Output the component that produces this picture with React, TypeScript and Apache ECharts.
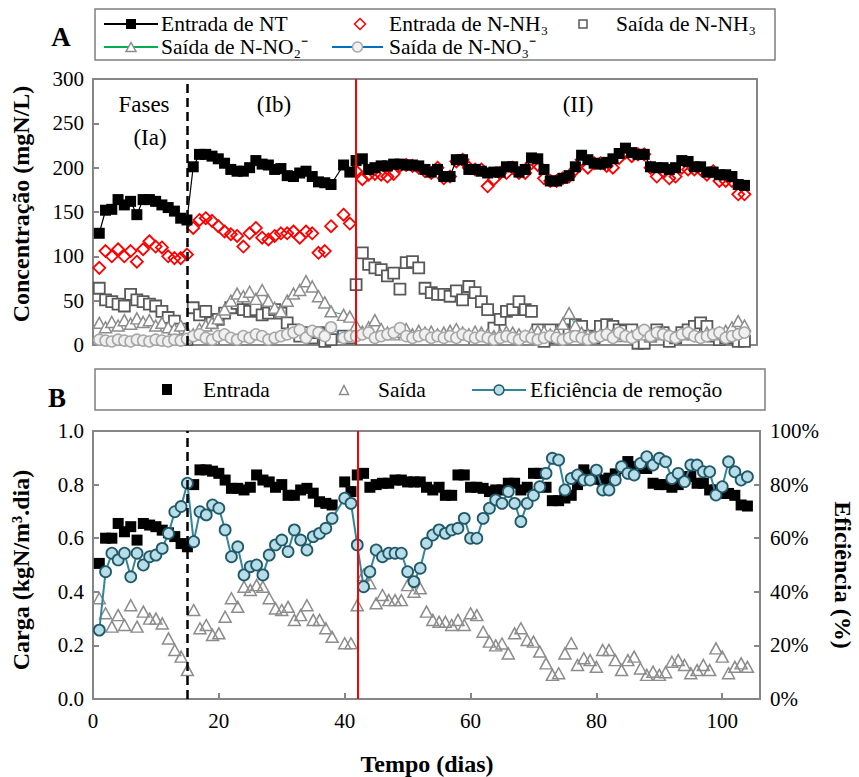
import React, { useEffect, useRef } from "react";
import * as echarts from "echarts";

// Days of operation (day 39 missing)
const DAYS = [
  1, 2, 3, 4, 5, 6, 7, 8, 9, 10, 11, 12, 13, 14, 15,
  16, 17, 18, 19, 20, 21, 22, 23, 24, 25, 26, 27, 28, 29, 30, 31, 32, 33, 34, 35, 36, 37, 38, 40, 41,
  42, 43, 44, 45, 46, 47, 48, 49, 50, 51, 52, 53, 54, 55, 56, 57, 58, 59, 60, 61,
  62, 63, 64, 65, 66, 67, 68, 69, 70, 71, 72, 73, 74, 75, 76, 77, 78, 79, 80, 81,
  82, 83, 84, 85, 86, 87, 88, 89, 90, 91, 92, 93, 94, 95, 96, 97, 98, 99, 100, 101,
  102, 103, 104,
];

// Panel A (mgN/L)
const ENTRADA_NT = [
  126, 152, 153, 164, 158, 162, 147, 164, 164, 162, 158, 155, 151, 143, 141,
  201, 215, 215, 213, 210, 205, 198, 196, 196, 200, 208, 204, 203, 198, 199, 191, 190, 194, 196, 190, 184, 183, 181, 203, 195,
  208, 210, 198, 200, 202, 202, 204, 204, 203, 203,
  202, 198, 195, 198, 190, 190, 209, 209, 198, 198,
  196, 194, 195, 195, 201, 201, 195, 198, 211, 210,
  198, 185, 185, 188, 191, 201, 214, 209, 205, 204,
  206, 210, 216, 222, 217, 215, 215, 201, 200, 200,
  198, 200, 208, 207, 201, 201, 195, 195, 192, 192,
  190, 181, 180,
];
const ENTRADA_NH3 = [
  87, 106, 100, 108, 100, 106, 94, 108, 117, 111, 110, 100, 98, 98, 102,
  132, 141, 143, 140, 134, 128, 125, 123, 111, 126, 132, 121, 119, 123, 126, 126, 128, 121, 128, 126, 104, 106, 134, 147, 137,
  196, 187, 192, 193, 192, 190, 193, 202, 203, 202,
  200, 196, 194, 200, 188, 190, 207, 209, 200, 198,
  198, 179, 187, 194, 194, 200, 194, 194, 205, 203,
  188, 185, 185, 188, 190, 198, 209, 200, 205, 205,
  202, 200, 211, 217, 213, 215, 215, 200, 190, 196,
  188, 190, 200, 198, 198, 198, 192, 196, 185, 185,
  185, 170, 170,
];
const SAIDA_NH3 = [
  64, 51, 49, 46, 44, 57, 51, 49, 46, 44, 38, 31, 27, 18, 6,
  42, 34, 38, 25, 29, 36, 42, 47, 40, 38, 40, 34, 36, 40, 36, 25, 17, 10, 14, 8, 14, 4, 6, 10, 8,
  68, 104, 91, 87, 85, 78, 81, 63, 93, 94,
  87, 64, 59, 57, 57, 55, 61, 51, 66, 59,
  49, 40, 19, 29, 38, 40, 49, 40, 38, 17,
  4, 17, 8, 17, 14, 23, 21, 10, 8, 21,
  23, 21, 17, 16, 17, 2, 2, 10, 17, 14,
  4, 8, 14, 17, 21, 25, 21, 10, 6, 8,
  12, 4, 4,
];
const SAIDA_NO2 = [
  25, 20, 26, 22, 28, 24, 30, 26, 28, 22, 25, 20, 18, 22, 15,
  12, 18, 22, 25, 30, 40, 50, 58, 55, 60, 52, 62, 50, 42, 38, 50, 58, 62, 72, 66, 55, 48, 38, 34, 32,
  22, 15, 20, 28, 18, 14, 12, 15, 18, 12,
  16, 14, 15, 12, 14, 16, 18, 14, 12, 15,
  14, 12, 10, 12, 15, 14, 12, 10, 14, 16,
  15, 12, 14, 24, 36, 22, 14, 12, 10, 12,
  14, 12, 10, 12, 10, 14, 12, 10, 12, 14,
  12, 10, 12, 14, 12, 10, 14, 12, 14, 16,
  20, 27, 22,
];
const SAIDA_NO3 = [
  6, 5, 4, 6, 5, 4, 6, 5, 4, 6, 5, 4, 6, 5, 7,
  10, 12, 8, 6, 10, 12, 8, 6, 10, 8, 12, 10, 6, 8, 10, 12, 14, 17, 8, 16, 14, 10, 20, 8, 10,
  10, 12, 14, 8, 10, 12, 14, 19, 10, 8,
  10, 12, 8, 10, 8, 10, 8, 12, 10, 8,
  10, 8, 6, 8, 10, 8, 6, 10, 8, 6,
  8, 10, 8, 6, 8, 10, 8, 6, 8, 10,
  12, 8, 14, 10, 8, 12, 17, 10, 14, 12,
  10, 8, 12, 14, 10, 8, 10, 12, 14, 8,
  10, 12, 14,
];

// Panel B (kgN/m3.dia and %)
const CARGA_ENTRADA = [
  0.506, 0.6, 0.6, 0.655, 0.624, 0.643, 0.593, 0.655, 0.649, 0.643, 0.63, 0.62, 0.606, 0.58, 0.568,
  0.8, 0.855, 0.855, 0.85, 0.842, 0.817, 0.786, 0.786, 0.78, 0.79, 0.836, 0.817, 0.81, 0.79, 0.8, 0.76, 0.76, 0.78, 0.786, 0.768, 0.736, 0.73, 0.724, 0.81, 0.774,
  0.836, 0.842, 0.79, 0.8, 0.805, 0.805, 0.817, 0.817, 0.81, 0.81,
  0.81, 0.79, 0.78, 0.79, 0.76, 0.76, 0.836, 0.836, 0.79, 0.79,
  0.786, 0.774, 0.78, 0.78, 0.805, 0.805, 0.78, 0.79, 0.842, 0.842,
  0.79, 0.74, 0.74, 0.75, 0.76, 0.8, 0.855, 0.836, 0.82, 0.817,
  0.824, 0.84, 0.86, 0.886, 0.867, 0.86, 0.86, 0.805, 0.8, 0.8,
  0.79, 0.8, 0.83, 0.83, 0.805, 0.805, 0.78, 0.78, 0.767, 0.767,
  0.76, 0.724, 0.72,
];
const CARGA_SAIDA = [
  0.376, 0.32, 0.27, 0.313, 0.276, 0.35, 0.27, 0.326, 0.3, 0.3, 0.282, 0.226, 0.183, 0.158, 0.108,
  0.332, 0.264, 0.276, 0.239, 0.245, 0.307, 0.376, 0.344, 0.419, 0.407, 0.425, 0.419, 0.376, 0.338, 0.332, 0.344, 0.295, 0.313, 0.35, 0.295, 0.295, 0.264, 0.232, 0.208, 0.208,
  0.35, 0.463, 0.432, 0.357, 0.388, 0.369, 0.369, 0.369, 0.425, 0.4,
  0.413, 0.326, 0.295, 0.288, 0.288, 0.276, 0.295, 0.276, 0.32, 0.313,
  0.251, 0.214, 0.2, 0.207, 0.17, 0.245, 0.264, 0.22, 0.214, 0.177,
  0.133, 0.09, 0.096, 0.17, 0.208, 0.127, 0.152, 0.145, 0.12, 0.183,
  0.183, 0.145, 0.108, 0.145, 0.158, 0.114, 0.09, 0.102, 0.09, 0.1,
  0.139, 0.145, 0.127, 0.096, 0.108, 0.127, 0.108, 0.189, 0.158, 0.096,
  0.12, 0.133, 0.12,
];
const EFICIENCIA = [
  25.7, 47.5, 54.4, 51.9, 54.4, 45.6, 54.4, 50, 53.1, 53.7, 56.2, 61.8, 69.9, 71.8, 80.5,
  58.7, 69.9, 68.7, 72.4, 71.2, 63.1, 53.1, 56.8, 46.3, 49.4, 50, 46.3, 53.7, 57.5, 59.3, 55, 63.1, 59.3, 55.6, 60.6, 61.8, 63.7, 67.4, 74.9, 73,
  57.5, 41.9, 47.5, 55.6, 53.1, 54.4, 54.4, 54.4, 47.5, 43.8,
  48.8, 58.1, 61.2, 63.1, 61.8, 63.1, 63.7, 67.4, 60, 60,
  67.4, 71.2, 74.3, 73, 77.4, 73, 66.2, 73, 76, 79.2,
  84.2, 89.8, 89.2, 78, 82.3, 83.6, 81.7, 81.7, 85.4, 78,
  78, 81.7, 86.7, 84.2, 83.6, 87.9, 90.4, 87.3, 89.8, 88.5,
  82.3, 84.2, 81.1, 87.3, 87.3, 84.8, 84.8, 76.1, 79.2, 88.5,
  84.8, 81.7, 82.9,
];

const PHASE_CHANGE_1 = 15;
const PHASE_CHANGE_2 = 42;
const X_TICKS = [0, 20, 40, 60, 80, 100];

const pairs = (ys: number[]) => DAYS.map((d, i) => [d, ys[i]]);

export default function App() {
  const ref = useRef<HTMLDivElement>(null);
  useEffect(() => {
    const chart = echarts.init(ref.current!, null, { renderer: "svg" });
    const FONT = "'Liberation Serif', 'Times New Roman', serif";
    const G = "#868686";
    const axisLine = { show: true, lineStyle: { color: G, width: 2 } };
    const tick = { show: true, inside: true, length: 6, lineStyle: { color: G, width: 2 } };
    const lbl = { color: "#000", fontFamily: FONT, fontSize: 21 };

    const vlines = {
      silent: true,
      symbol: ["none", "none"],
      label: { show: false },
      emphasis: { disabled: true },
      data: [
        { xAxis: PHASE_CHANGE_1, lineStyle: { color: "#000", width: 2.5, type: [9, 5] } },
        { xAxis: PHASE_CHANGE_2, lineStyle: { color: "#ff0000", width: 2, type: "solid" } },
      ],
    };

    const T = (text: string, x: number, y: number, size: number, opts: any = {}) => ({
      type: "text",
      x,
      y,
      rotation: opts.rotation || 0,
      style: {
        text,
        fill: "#000",
        fontFamily: FONT,
        fontSize: size,
        fontWeight: opts.bold ? "bold" : "normal",
        align: opts.align || "left",
        verticalAlign: "middle",
      },
    });

    const diamond = (cx: number, cy: number, r: number) => [
      [cx, cy - r], [cx + r, cy], [cx, cy + r], [cx - r, cy],
    ];
    const tri = (cx: number, cy: number, w: number, h: number) => [
      [cx, cy - h / 2], [cx + w / 2, cy + h / 2], [cx - w / 2, cy + h / 2],
    ];

    const legA = 24, legA2 = 47, legB = 390;
    const LF = 21.5;
    const graphic: any[] = [
      // Legend A box
      { type: "rect", shape: { x: 95, y: 9, width: 680, height: 51 }, style: { fill: "#fff", stroke: "#7f7f7f", lineWidth: 1.5 } },
      { type: "line", shape: { x1: 104, y1: legA, x2: 158, y2: legA }, style: { stroke: "#000", lineWidth: 2 } },
      { type: "rect", shape: { x: 126, y: legA - 5, width: 10, height: 10 }, style: { fill: "#000" } },
      T("Entrada de NT", 161, legA, LF),
      { type: "polygon", shape: { points: diamond(360, legA, 5.5) }, style: { fill: "none", stroke: "#ff0000", lineWidth: 1.5 } },
      T("Entrada de N-NH₃", 389, legA, LF),
      { type: "rect", shape: { x: 579, y: legA - 4, width: 8, height: 8 }, style: { fill: "#fff", stroke: "#595959", lineWidth: 1.5 } },
      T("Saída de N-NH₃", 616, legA, LF),
      { type: "line", shape: { x1: 104, y1: legA2, x2: 158, y2: legA2 }, style: { stroke: "#00b050", lineWidth: 2 } },
      { type: "polygon", shape: { points: tri(131, legA2, 10, 9) }, style: { fill: "#fff", stroke: "#8c8c8c", lineWidth: 1.5 } },
      T("Saída de N-NO₂⁻", 161, legA2, LF),
      { type: "line", shape: { x1: 332, y1: legA2, x2: 383, y2: legA2 }, style: { stroke: "#0070c0", lineWidth: 2 } },
      { type: "circle", shape: { cx: 357.5, cy: legA2, r: 5 }, style: { fill: "#f2f2f2", stroke: "#a6a6a6", lineWidth: 1.5 } },
      T("Saída de N-NO₃⁻", 389, legA2, LF),
      // Legend B box
      { type: "rect", shape: { x: 95, y: 369, width: 670, height: 41 }, style: { fill: "#fff", stroke: "#7f7f7f", lineWidth: 1.5 } },
      { type: "rect", shape: { x: 162, y: legB - 6, width: 10, height: 11 }, style: { fill: "#000" } },
      T("Entrada", 203, legB, LF),
      { type: "polygon", shape: { points: tri(344, legB, 9, 9) }, style: { fill: "#fff", stroke: "#8c8c8c", lineWidth: 1.5 } },
      T("Saída", 378, legB, LF),
      { type: "line", shape: { x1: 472, y1: legB, x2: 526, y2: legB }, style: { stroke: "#31859c", lineWidth: 2 } },
      { type: "circle", shape: { cx: 499, cy: legB, r: 5 }, style: { fill: "#b7dee8", stroke: "#215968", lineWidth: 1.5 } },
      T("Eficiência de remoção", 530, legB, LF),
      // Panel letters
      T("A", 61, 37, 27, { bold: true, align: "center" }),
      T("B", 57, 398, 27, { bold: true, align: "center" }),
      // Phase labels
      T("Fases", 144, 104, 23, { align: "center" }),
      T("(Ia)", 150, 137, 23, { align: "center" }),
      T("(Ib)", 274, 104, 23, { align: "center" }),
      T("(II)", 578, 104, 23, { align: "center" }),
      // Axis titles
      T("Concentração (mgN/L)", 21, 204, 24, { bold: true, align: "center", rotation: Math.PI / 2 }),
      T("Carga (kgN/m³.dia)", 21, 570, 24, { bold: true, align: "center", rotation: Math.PI / 2 }),
      T("Eficiência (%)", 843, 575, 24, { bold: true, align: "center", rotation: -Math.PI / 2 }),
      T("Tempo (dias)", 427, 764, 24, { bold: true, align: "center" }),
    ];

    const option: any = {
      animation: false,
      backgroundColor: "#fff",
      textStyle: { fontFamily: FONT },
      grid: [
        { left: 93, top: 79, width: 664, height: 266, show: true, borderColor: G, borderWidth: 2, backgroundColor: "transparent" },
        { left: 93, top: 431, width: 667, height: 268, show: true, borderColor: G, borderWidth: 2, backgroundColor: "transparent" },
      ],
      xAxis: [
        {
          gridIndex: 0, type: "value", min: 0, max: 106, interval: 20,
          axisLine, axisTick: tick, axisLabel: { show: false }, splitLine: { show: false },
        },
        {
          gridIndex: 1, type: "value", min: 0, max: 106, interval: 20,
          axisLine, axisTick: tick, splitLine: { show: false },
          axisLabel: {
            ...lbl, margin: 11,
            formatter: (v: number) => (X_TICKS.indexOf(v) >= 0 ? String(v) : ""),
          },
        },
      ],
      yAxis: [
        {
          gridIndex: 0, type: "value", min: 0, max: 300, interval: 50,
          axisLine, axisTick: tick, splitLine: { show: false },
          axisLabel: { ...lbl, margin: 9 },
        },
        {
          gridIndex: 1, type: "value", min: 0, max: 1, interval: 0.2,
          axisLine, axisTick: tick, splitLine: { show: false },
          axisLabel: { ...lbl, margin: 9, formatter: (v: number) => v.toFixed(1) },
        },
        {
          gridIndex: 1, type: "value", position: "right", min: 0, max: 100, interval: 20,
          axisLine, axisTick: tick, splitLine: { show: false },
          axisLabel: { ...lbl, margin: 10, formatter: (v: number) => `${v}%` },
        },
      ],
      series: [
        {
          name: "Saída de N-NO2", type: "line", xAxisIndex: 0, yAxisIndex: 0, data: pairs(SAIDA_NO2),
          symbol: "triangle", symbolSize: [12, 11], showAllSymbol: true,
          itemStyle: { color: "#fff", borderColor: "#8c8c8c", borderWidth: 1.5 },
          lineStyle: { color: "#00b050", width: 1 },
        },
        {
          name: "Saída de N-NO3", type: "line", xAxisIndex: 0, yAxisIndex: 0, data: pairs(SAIDA_NO3),
          symbol: "circle", symbolSize: 11, showAllSymbol: true,
          itemStyle: { color: "#f0f0f0", borderColor: "#a6a6a6", borderWidth: 1.5 },
          lineStyle: { color: "#0070c0", width: 1 },
        },
        {
          name: "Saída de N-NH3", type: "scatter", xAxisIndex: 0, yAxisIndex: 0, data: pairs(SAIDA_NH3),
          symbol: "rect", symbolSize: 11,
          itemStyle: { color: "#fff", borderColor: "#595959", borderWidth: 1.8, opacity: 1 },
        },
        {
          name: "Entrada de NT", type: "line", xAxisIndex: 0, yAxisIndex: 0, data: pairs(ENTRADA_NT),
          symbol: "rect", symbolSize: 11, showAllSymbol: true,
          itemStyle: { color: "#000" },
          lineStyle: { color: "#000", width: 1.2 },
        },
        {
          name: "Entrada de N-NH3", type: "scatter", xAxisIndex: 0, yAxisIndex: 0, data: pairs(ENTRADA_NH3),
          symbol: "diamond", symbolSize: [12, 12],
          itemStyle: { color: "rgba(255,255,255,0)", borderColor: "#ff0000", borderWidth: 1.8, opacity: 1 },
          markLine: vlines,
        },
        {
          name: "Saída", type: "scatter", xAxisIndex: 1, yAxisIndex: 1, data: pairs(CARGA_SAIDA),
          symbol: "triangle", symbolSize: [12, 11],
          itemStyle: { color: "rgba(255,255,255,0)", borderColor: "#8c8c8c", borderWidth: 1.5, opacity: 1 },
        },
        {
          name: "Entrada", type: "scatter", xAxisIndex: 1, yAxisIndex: 1, data: pairs(CARGA_ENTRADA),
          symbol: "rect", symbolSize: 11,
          itemStyle: { color: "#000", opacity: 1 },
        },
        {
          name: "Eficiência de remoção", type: "line", xAxisIndex: 1, yAxisIndex: 2, data: pairs(EFICIENCIA),
          symbol: "circle", symbolSize: 11, showAllSymbol: true,
          itemStyle: { color: "#b7dee8", borderColor: "#215968", borderWidth: 1.8 },
          lineStyle: { color: "#31859c", width: 2 },
          markLine: vlines,
        },
      ],
      graphic,
    };
    chart.setOption(option);
    return () => chart.dispose();
  }, []);
  return (
    <div
      ref={ref}
      style={{ position: "fixed", left: 0, top: 0, width: 859, height: 777, background: "#fff" }}
    />
  );
}
